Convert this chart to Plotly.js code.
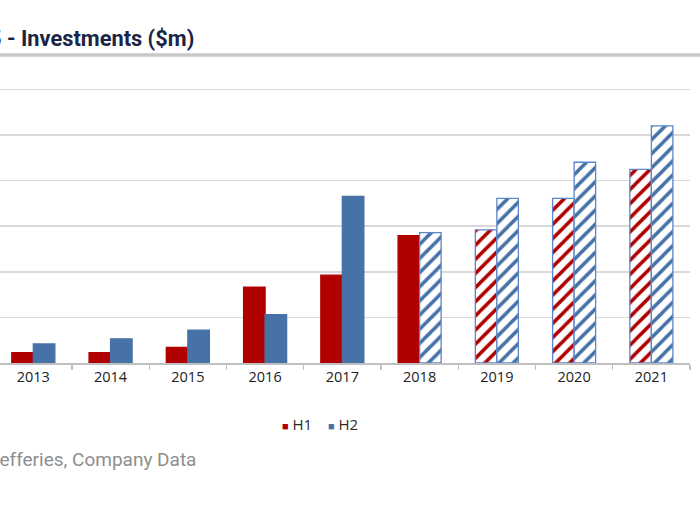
<!DOCTYPE html>
<html>
<head>
<meta charset="utf-8">
<script src="https://cdn.plot.ly/plotly-3.0.1.min.js"></script>
<style>
  html, body { margin: 0; padding: 0; background: #ffffff; }
  #chart { width: 700px; height: 525px; }
</style>
</head>
<body>
<div id="chart"></div>
<script>
// Data (no y-axis labels in the source; one gridline = 100 units)
var years = ['2013', '2014', '2015', '2016', '2017', '2018', '2019', '2020', '2021'];
var h1Values = [22.5, 22.5, 34, 166, 192.5, 279, 292, 361, 424.5];
var h2Values = [41.6, 53, 72, 106, 365, 286, 361, 440, 520];
var seriesNames = ['H1', 'H2'];
var h1FirstEstimateYear = '2019';
var h2FirstEstimateYear = '2018';
var titleText = '5 - Investments ($m)';
var sourceText = 'Jefferies, Company Data';

var RED = '#b00000';
var BLUE = '#4672a8';
var OUTLINE = '#5b86c9';

function buildStyle(firstEst, color) {
  var idx = years.indexOf(firstEst);
  var shapes = [], fg = [], bg = [], lc = [];
  years.forEach(function (y, i) {
    var est = i >= idx;
    shapes.push(est ? '/' : '');
    fg.push(color);
    bg.push(est ? '#ffffff' : color);
    lc.push(est ? OUTLINE : color);
  });
  return { shapes: shapes, fg: fg, bg: bg, lc: lc };
}

var s1 = buildStyle(h1FirstEstimateYear, RED);
var s2 = buildStyle(h2FirstEstimateYear, BLUE);

var traces = [
  {
    type: 'bar', name: seriesNames[0], x: years, y: h1Values,
    marker: {
      color: RED,
      line: { color: s1.lc, width: 1.3 },
      pattern: { shape: s1.shapes, fgcolor: s1.fg, bgcolor: s1.bg, size: 10, solidity: 0.35, fillmode: 'replace' }
    },
    hoverinfo: 'skip'
  },
  {
    type: 'bar', name: seriesNames[1], x: years, y: h2Values,
    marker: {
      color: BLUE,
      line: { color: s2.lc, width: 1.3 },
      pattern: { shape: s2.shapes, fgcolor: s2.fg, bgcolor: s2.bg, size: 10, solidity: 0.35, fillmode: 'replace' }
    },
    hoverinfo: 'skip'
  }
];

var plotLeft = 0, plotRight = 690, plotTop = 70, plotBottom = 363.3;
var plotH = plotBottom - plotTop;
var gridPx = (plotBottom - 89.3) / 6;
var yMax = 100 * plotH / gridPx;
var xStart = -0.5 + 5.3 / 77.2;

function py(pix) { return (plotBottom - pix) / plotH; }
function px(pix) { return (pix - plotLeft) / (plotRight - plotLeft); }

var labelFont = 'Open Sans, Noto Sans, sans-serif';

var layout = {
  width: 700, height: 525,
  margin: { l: plotLeft, r: 700 - plotRight, t: plotTop, b: 525 - plotBottom, pad: 0 },
  paper_bgcolor: '#ffffff', plot_bgcolor: '#ffffff',
  barmode: 'group', bargap: 0.443, bargroupgap: 0,
  font: { family: labelFont, color: '#333333', size: 13 },
  xaxis: {
    type: 'category', range: [xStart, 8.5],
    showgrid: false, showline: true, linecolor: '#bfbfbf', linewidth: 1.5,
    ticks: 'outside', tickson: 'boundaries', ticklen: 5, tickcolor: '#bfbfbf', tickwidth: 1.2,
    tickfont: { family: labelFont, size: 14.5, color: '#222222' },
    fixedrange: true
  },
  yaxis: {
    range: [0, yMax], dtick: 100, tick0: 0,
    showticklabels: false, ticks: '',
    showgrid: true, gridcolor: '#d9d9d9', gridwidth: 1.5,
    zeroline: false, showline: false, fixedrange: true
  },
  showlegend: false,
  shapes: [
    { type: 'line', xref: 'paper', yref: 'paper', x0: px(-5), x1: px(705), y0: py(55), y1: py(55),
      line: { color: '#c8c8c8', width: 3.5 } }
  ],
  annotations: [
    { text: '<b>' + titleText + '</b>', xref: 'paper', yref: 'paper', x: px(-13), xanchor: 'left', y: py(38), yanchor: 'middle',
      showarrow: false, font: { family: 'Roboto, Arial, sans-serif', size: 21.8, color: '#1b2445' } },
    { text: sourceText, xref: 'paper', yref: 'paper', x: px(-13.5), xanchor: 'left', y: py(460), yanchor: 'middle',
      showarrow: false, font: { family: 'Roboto, Arial, sans-serif', size: 19, color: '#8e8e8e' } },
    { text: '<span style="color:' + RED + ';font-size:11px">■</span> ' + seriesNames[0], xref: 'paper', yref: 'paper',
      x: px(280), xanchor: 'left', y: py(424), yanchor: 'middle',
      showarrow: false, font: { family: 'Liberation Sans Narrow, Open Sans, sans-serif', size: 15, color: '#2a2a2a' } },
    { text: '<span style="color:' + BLUE + ';font-size:11px">■</span> ' + seriesNames[1], xref: 'paper', yref: 'paper',
      x: px(326), xanchor: 'left', y: py(424), yanchor: 'middle',
      showarrow: false, font: { family: 'Liberation Sans Narrow, Open Sans, sans-serif', size: 15, color: '#2a2a2a' } }
  ]
};

Plotly.newPlot('chart', traces, layout, { displayModeBar: false, staticPlot: true });
</script>
</body>
</html>
